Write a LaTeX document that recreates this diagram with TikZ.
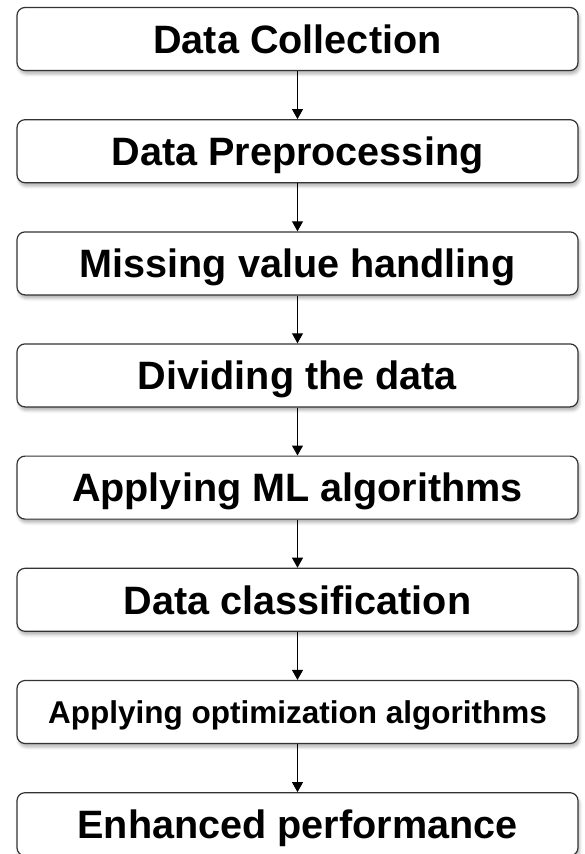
\documentclass[tikz,border=0pt]{standalone}
\usepackage{fontspec}
\setmainfont{Liberation Sans}
\usetikzlibrary{arrows.meta,shadows.blur}
\begin{document}
\begin{tikzpicture}[x=1pt,y=1pt]
\tikzset{
  stage/.style={draw=black!80, line width=1.2pt, rounded corners=8pt, fill=white,
    minimum width=561pt, minimum height=63pt, inner sep=0pt,
    text height=28.4pt, text depth=0pt,
    font=\fontsize{39.6}{48}\selectfont\bfseries,
    blur shadow={shadow xshift=1.5pt, shadow yshift=-3.5pt, shadow blur radius=3pt, shadow opacity=30}},
  stagesmall/.style={stage, text height=22.6pt, font=\fontsize{31.5}{38}\selectfont\bfseries},
  flow/.style={-{Triangle[width=11pt,length=10pt]}, line width=1pt, draw=black}
}
\useasboundingbox (0,0) rectangle (585,-854);
\begin{scope}
\clip (0,0) rectangle (585,-854);
\node[stage]      (s1) at (297.5,-39)    {Data Collection};
\node[stage]      (s2) at (297.5,-151.2) {Data Preprocessing};
\node[stage]      (s3) at (297.5,-263.4) {Missing value handling};
\node[stage]      (s4) at (297.5,-375.4) {Dividing the data};
\node[stage]      (s5) at (297.5,-487.6) {Applying ML algorithms};
\node[stage]      (s6) at (297.5,-599.8) {Data classification};
\node[stagesmall] (s7) at (297.5,-712)   {Applying optimization algorithms};
\node[stage]      (s8) at (297.5,-824.2) {Enhanced performance};
\foreach \a/\b in {s1/s2,s2/s3,s3/s4,s4/s5,s5/s6,s6/s7,s7/s8}
  \draw[flow] (\a.south) -- (\b.north);
\end{scope}
\end{tikzpicture}
\end{document}
